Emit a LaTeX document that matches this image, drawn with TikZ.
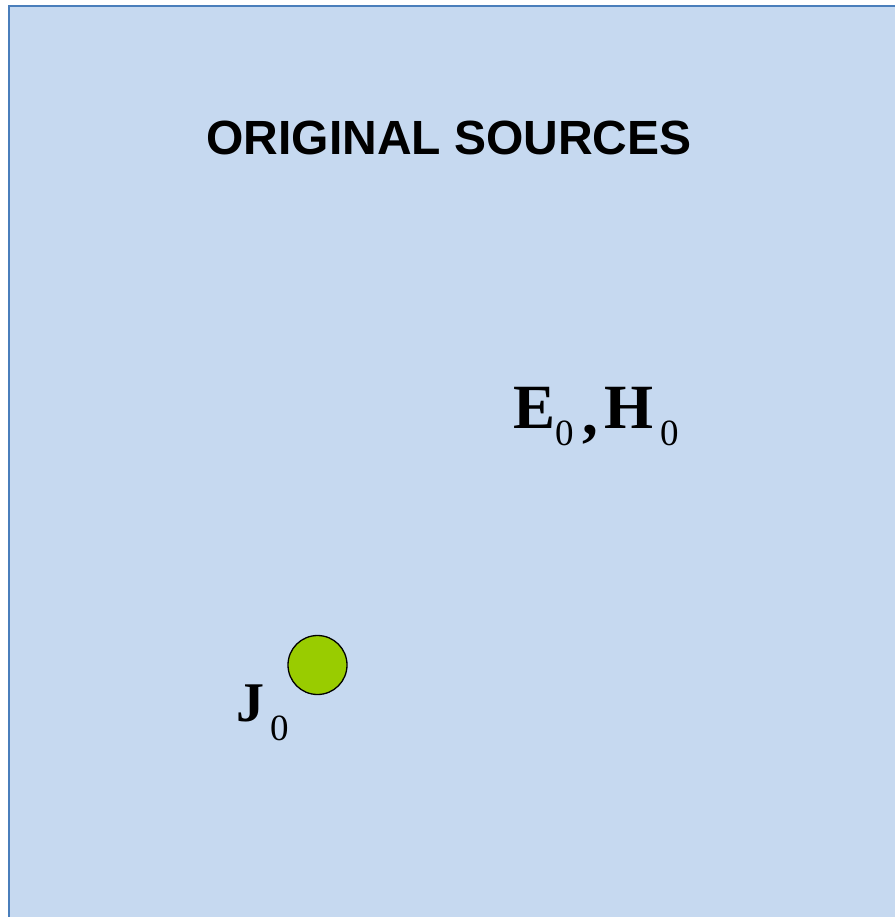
\documentclass[tikz,border=0pt]{standalone}
\usepackage{fontspec}
\setmainfont{Liberation Serif}
\newfontfamily\arialfont{Liberation Sans}
\definecolor{panelfill}{HTML}{C6D9F0}
\definecolor{paneledge}{HTML}{4A7EBB}
\definecolor{srcgreen}{HTML}{99CC00}
\begin{document}
\begin{tikzpicture}[x=1pt,y=-1pt,
  glyph/.style={inner sep=0pt, outer sep=0pt, anchor=base west},
  bigsym/.style={glyph, font=\fontsize{63}{70}\selectfont\bfseries},
  subsym/.style={glyph, font=\fontsize{37}{40}\selectfont}]
\useasboundingbox (0,0) rectangle (894,917);
\fill[white] (0,0) rectangle (894,917);
\draw[paneledge, fill=panelfill, line width=2pt] (9,6) rectangle (910,930);
\node[inner sep=0pt, anchor=base, font=\arialfont\bfseries\fontsize{48}{56}\selectfont] (title) at (449,155) {ORIGINAL SOURCES};
% fields
\node[bigsym] (E) at (513,428) {E};
\node[subsym] (Esub) at (555,445) {0};
\node[bigsym] (comma) at (582,434) {,};
\node[bigsym] (H) at (604,428) {H};
\node[subsym] (Hsub) at (660,445) {0};
% source
\node[draw=black, line width=1.3pt, fill=srcgreen, circle, minimum size=59pt, inner sep=0pt] (src) at (317.5,665) {};
\node[glyph, font=\fontsize{56}{64}\selectfont\bfseries] (J) at (236,721) {J};
\node[subsym] (Jsub) at (270,740) {0};
\end{tikzpicture}
\end{document}
